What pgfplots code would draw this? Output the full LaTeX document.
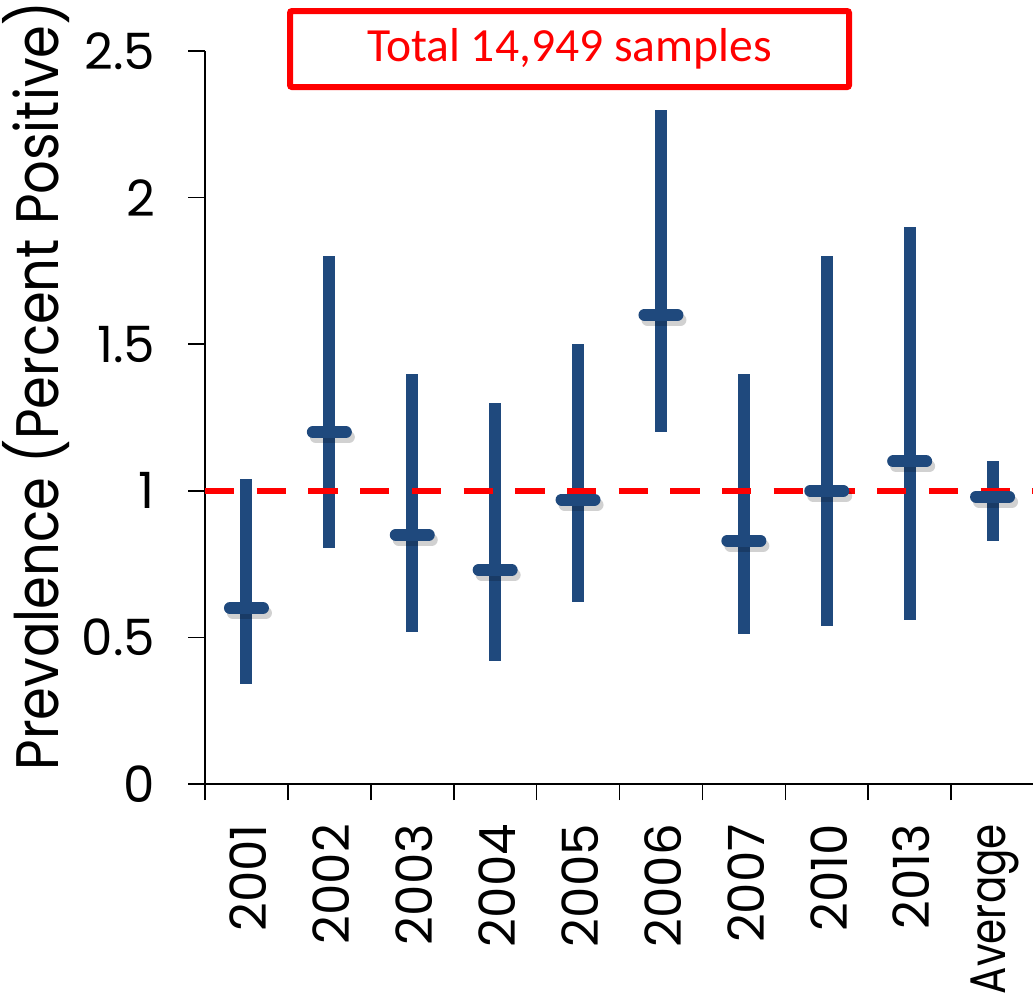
\documentclass[border=0pt]{standalone}
\usepackage{pgfplots}
\pgfplotsset{compat=1.18}
\usepackage{pgfplotstable}
\usepackage{fontspec}
\setmainfont{Poppins}
\newfontfamily\labelfont[FakeStretch=0.88]{Poppins}
\newfontfamily\avgfont[FakeStretch=0.81]{Poppins}
\newfontfamily\boxfont{Carlito}
\definecolor{barblue}{RGB}{31,73,125}

\pgfplotstableread{
x mean low high
0 0.60 0.34 1.04
1 1.20 0.805 1.80
2 0.85 0.52 1.40
3 0.73 0.42 1.30
4 0.97 0.62 1.50
5 1.60 1.20 2.30
6 0.83 0.51 1.40
7 1.00 0.54 1.80
8 1.10 0.56 1.90
9 0.98 0.83 1.10
}\datatable
\pgfplotstablecreatecol[expr={\thisrow{high}-\thisrow{mean}}]{ep}{\datatable}
\pgfplotstablecreatecol[expr={\thisrow{mean}-\thisrow{low}}]{em}{\datatable}

\begin{document}
\begin{tikzpicture}
\begin{axis}[
  scale only axis,
  width=414.5pt, height=366.5pt,
  xmin=-0.5, xmax=9.5,
  ymin=0, ymax=2.5,
  axis lines*=left,
  axis line style={line width=1pt, black},
  clip=false,
  xtick={0,...,9},
  xticklabels={2001,2002,2003,2004,2005,2006,2007,2010,2013,{\avgfont Average}},
  major x tick style={draw=none},
  minor xtick={-0.5,0.5,...,9.5},
  minor x tick style={line width=0.8pt, black},
  minor tick length=8pt,
  ytick={0,0.5,1,1.5,2,2.5},
  yticklabels={0,0.5,1,1.5,2,2.5},
  y tick style={line width=0.8pt, black},
  major tick length=8.5pt,
  tick align=outside,
  /pgf/number format/assume math mode=true,
  ticklabel style={font=\fontsize{25}{28}\selectfont},
  xticklabel style={rotate=90, anchor=east, xshift=-8pt, yshift=-1pt},
  yticklabel style={anchor=east, xshift=-13pt},
  ylabel={\labelfont Prevalence (Percent Positive)},
  ylabel style={font=\fontsize{30}{34}\selectfont, at={(rel axis cs:-0.1773,0.543)}, anchor=base, rotate=0},
]
% error bars (vertical lines)
\addplot[draw=none, mark=none,
  error bars/.cd, y dir=both, y explicit, error mark=none,
  error bar style={line width=6pt, barblue}]
  table[x=x, y=mean, y error plus=ep, y error minus=em] {\datatable};
% shadow of mean markers
\addplot[only marks, mark=-, mark size=8.25pt,
  mark options={line width=6pt, line cap=round, draw=black, opacity=0.18, xshift=1.5pt, yshift=-2.5pt}]
  table[x=x, y=mean] {\datatable};
% mean markers
\addplot[only marks, mark=-, mark size=8.25pt,
  mark options={line width=6pt, line cap=round, draw=barblue}]
  table[x=x, y=mean] {\datatable};
% reference line
\addplot[red, line width=3.3pt, dash pattern=on 14.65pt off 11.2pt, mark=none]
  coordinates {(-0.5,1) (9.5,1)};
% box
\node[draw=red, line width=3pt, rounded corners=1pt, minimum width=279.5pt, minimum height=38pt,
  inner sep=0pt, text=red, font=\boxfont\fontsize{23.8}{26}\selectfont]
  at (rel axis cs:0.4397,1.0027) {Total 14,949 samples};
\coordinate (BBA) at (rel axis cs:-0.2473,-0.2906);
\coordinate (BBB) at (rel axis cs:0.9988,1.0696);
\end{axis}
\pgfresetboundingbox
\path[use as bounding box] (BBA) rectangle (BBB);
\end{tikzpicture}
\end{document}
